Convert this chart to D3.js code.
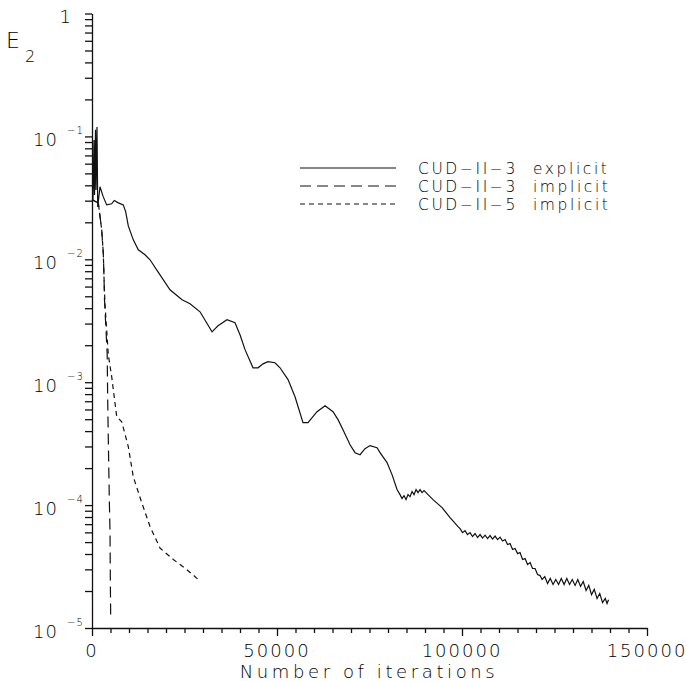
<!DOCTYPE html>
<html>
<head>
<meta charset="utf-8">
<script src="https://cdn.jsdelivr.net/npm/d3@7"></script>
<style>
  body { margin: 0; background: #fff; }
  text { font-family: "DejaVu Sans", sans-serif; font-weight: 200; fill: #000; white-space: pre; }
</style>
</head>
<body>
<div id="chart"></div>
<script>
// CUD-II-3 explicit
var explicitIter = [0, 270, 540, 680, 950, 1080, 1350, 1540, 2160, 3050, 3970, 5320, 6030, 7110, 8460, 9110, 9810,
    11160, 12510, 14330, 15680, 17840, 21080, 24330, 26490, 29190, 30810, 32440, 34060, 36490, 38650, 40000,
    41360, 43520, 44870, 46220, 47570, 49460, 50820, 52980, 54870, 57030, 58380, 60820, 62980, 65140, 66490,
    67840, 69740, 71090, 72440, 73790, 75140, 77040, 77850, 79740, 81090, 82440, 83250, 83790, 84330, 84870,
    85410, 85950, 86500, 87040, 87580, 88120, 88660, 89200, 89740, 90550, 92170, 94610, 96770, 98930, 99470,
    100140, 100820, 101490, 102170, 102850, 103520, 104200, 104880, 105550, 106230, 106910, 107580, 108260,
    108930, 109610, 110290, 110960, 111640, 112310, 112990, 113670, 114340, 115020, 115690, 116370, 117050,
    117720, 118400, 119070, 119750, 120420, 121100, 121640, 122370, 123120, 123850, 124610, 125340, 126100,
    126830, 127590, 128320, 129070, 129800, 130560, 131290, 132040, 132770, 133530, 134260, 135010, 135740,
    136500, 137230, 137990, 138720, 139200, 139610];
var explicitE2 = [0.0305, 0.0305, 0.0936, 0.0334, 0.113, 0.0367, 0.1195, 0.0267, 0.0389, 0.0322, 0.0277, 0.0283,
    0.0301, 0.0288, 0.0277, 0.0243, 0.0187, 0.0144, 0.01195, 0.01088, 0.00991, 0.00791, 0.00565, 0.00469,
    0.00435, 0.00374, 0.0031, 0.00257, 0.00288, 0.00322, 0.00305, 0.00243, 0.00184, 0.00131, 0.00131, 0.00141,
    0.00147, 0.00144, 0.00131, 0.00105, 0.000762, 0.000469, 0.000469, 0.000576, 0.000644, 0.000576, 0.000496,
    0.000411, 0.00031, 0.000267, 0.000257, 0.000288, 0.000305, 0.000293, 0.000267, 0.000222, 0.000177,
    0.000134, 0.0001217, 0.0001129, 0.0001195, 0.0001108, 0.0001217, 0.0001172, 0.0001288, 0.0001217,
    0.0001337, 0.0001264, 0.0001337, 0.0001264, 0.0001312, 0.000124, 0.0001108, 0.0000954, 0.0000791,
    0.0000669, 6.44e-5, 5.97e-5, 6.20e-5, 5.76e-5, 5.97e-5, 5.55e-5, 5.87e-5, 5.44e-5, 5.76e-5, 5.39e-5,
    5.70e-5, 5.34e-5, 5.65e-5, 5.29e-5, 5.60e-5, 5.24e-5, 5.49e-5, 5.10e-5, 5.24e-5, 4.77e-5, 4.86e-5,
    4.35e-5, 4.43e-5, 4.03e-5, 4.11e-5, 3.61e-5, 3.67e-5, 3.28e-5, 3.41e-5, 3.05e-5, 3.05e-5, 2.72e-5,
    2.67e-5, 2.48e-5, 2.62e-5, 2.30e-5, 2.53e-5, 2.26e-5, 2.48e-5, 2.26e-5, 2.53e-5, 2.26e-5, 2.53e-5,
    2.26e-5, 2.48e-5, 2.22e-5, 2.48e-5, 2.18e-5, 2.39e-5, 2.02e-5, 2.22e-5, 1.87e-5, 2.06e-5, 1.74e-5,
    1.91e-5, 1.61e-5, 1.74e-5, 1.58e-5, 1.70e-5];

// CUD-II-3 implicit
var implicit3Iter = [0, 1700, 2620, 3050, 3240, 3380, 3780, 4110, 4240, 4410, 4680, 4870, 4950, 5050];
var implicit3E2 = [0.0305, 0.0288, 0.01737, 0.01129, 0.00721, 0.00469, 0.00267, 0.00167, 0.000721, 0.000341,
    0.000111, 5.97e-5, 2.62e-5, 1.22e-5];

// CUD-II-5 implicit
var implicit5Iter = [0, 1700, 2620, 3050, 3240, 3510, 4410, 5320, 6680, 8030, 9810, 11160, 13430, 15680, 18380,
    21980, 25600, 28730];
var implicit5E2 = [0.0305, 0.0288, 0.01737, 0.01129, 0.00721, 0.00431, 0.00167, 0.00111, 0.000524, 0.000477,
    0.000299, 0.00017, 0.000105, 6.69e-5, 4.47e-5, 3.61e-5, 2.99e-5, 2.48e-5];

var seriesNames = ["CUD\u2212II\u22123  explicit", "CUD\u2212II\u22123  implicit", "CUD\u2212II\u22125  implicit"];
var xTickLabels = [0, 50000, 100000, 150000];
var yDecades = [0, -1, -2, -3, -4, -5];

var width = 686,
    height = 681;

var x = d3.scaleLinear().domain([0, 150000]).range([92, 647]);
var y = d3.scaleLog().domain([1e-5, 1]).range([628, 13.5]);

var svg = d3.select("#chart")
    .append("svg")
    .attr("width", width)
    .attr("height", height);

svg.append("rect").attr("width", width).attr("height", height).attr("fill", "#fff");

// y axis: minor ticks 2..9 in every decade
var yTicks = [];
yDecades.forEach(function (p) {
    if (p > -5) {
        for (var k = 1; k < 10; k++) yTicks.push(k * Math.pow(10, p - 1));
    }
});
yTicks.push(1);

svg.append("g")
    .attr("transform", "translate(92,0)")
    .call(d3.axisLeft(y).tickValues(yTicks).tickSize(7).tickSizeOuter(0).tickFormat(""));

// x axis
var xAxis = svg.append("g")
    .attr("transform", "translate(0,628)")
    .call(d3.axisBottom(x).tickValues(d3.range(0, 150001, 5000)).tickSize(5).tickSizeOuter(0).tickFormat(""));
xAxis.selectAll(".tick line")
    .attr("y2", function (d) { return d % 50000 === 0 ? 8 : 5; });

svg.selectAll(".domain, .tick line").attr("stroke", "#111").attr("stroke-width", 1.3);

// x tick labels
svg.append("g").selectAll("text")
    .data(xTickLabels)
    .enter().append("text")
    .attr("x", function (d) { return x(d); })
    .attr("y", 657)
    .attr("text-anchor", "middle")
    .style("font-size", "18px")
    .style("letter-spacing", "2px")
    .text(function (d) { return d; });

svg.append("text")
    .attr("x", 369)
    .attr("y", 678)
    .attr("text-anchor", "middle")
    .style("font-size", "18px")
    .style("letter-spacing", "3.6px")
    .text("Number of iterations");

// y tick labels
var ylab = svg.append("g").selectAll("g")
    .data(yDecades)
    .enter().append("g")
    .attr("transform", function (d) { return "translate(0," + y(Math.pow(10, d)) + ")"; });

ylab.filter(function (d) { return d === 0; })
    .append("text")
    .attr("x", 71)
    .attr("y", 9.5)
    .attr("text-anchor", "end")
    .style("font-size", "18px")
    .text("1");

ylab.filter(function (d) { return d < 0; })
    .append("text")
    .attr("x", 58)
    .attr("y", 10)
    .attr("text-anchor", "end")
    .style("font-size", "18px")
    .style("letter-spacing", "1px")
    .text("10");

ylab.filter(function (d) { return d < 0; })
    .append("text")
    .attr("x", 67)
    .attr("y", -2)
    .style("font-size", "10px")
    .style("letter-spacing", "1px")
    .text(function (d) { return "\u2212" + (-d); });

// axis title
svg.append("text").attr("x", 6).attr("y", 48).style("font-size", "22px").text("E");
svg.append("text").attr("x", 25).attr("y", 62).style("font-size", "16px").text("2");

// lines
var line = d3.line()
    .x(function (d) { return x(d[0]); })
    .y(function (d) { return y(d[1]); });

var series = [
    { data: d3.zip(explicitIter, explicitE2), dash: null },
    { data: d3.zip(implicit3Iter, implicit3E2), dash: "11,6" },
    { data: d3.zip(implicit5Iter, implicit5E2), dash: "5,4" }
];

svg.append("g").selectAll("path")
    .data(series)
    .enter().append("path")
    .attr("d", function (d) { return line(d.data); })
    .attr("fill", "none")
    .attr("stroke", "#111")
    .attr("stroke-width", 1.2)
    .attr("stroke-dasharray", function (d) { return d.dash; });

// legend
var legend = svg.append("g").selectAll("g")
    .data(series)
    .enter().append("g")
    .attr("transform", function (d, i) { return "translate(0," + (168 + i * 18) + ")"; });

legend.append("line")
    .attr("x1", 300).attr("x2", 396)
    .attr("stroke", "#111")
    .attr("stroke-width", 1.2)
    .attr("stroke-dasharray", function (d) { return d.dash; });

legend.append("text")
    .attr("x", 418)
    .attr("y", 6)
    .style("font-size", "15.5px")
    .style("letter-spacing", "2.6px")
    .text(function (d, i) { return seriesNames[i]; });
</script>
</body>
</html>
